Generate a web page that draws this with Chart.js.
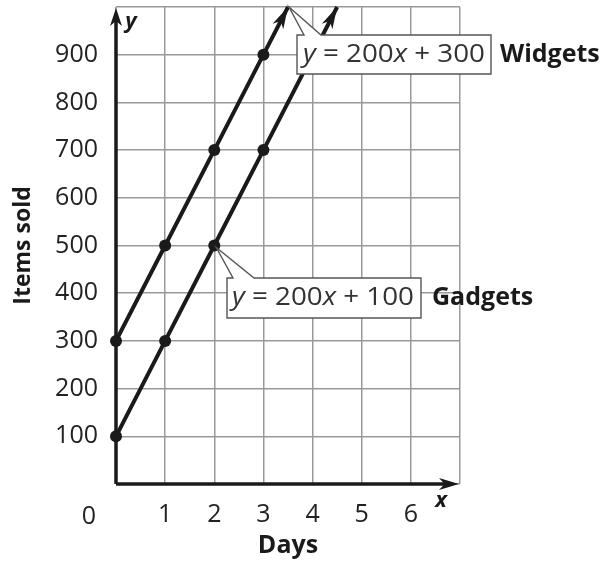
<!DOCTYPE html>
<html>
<head>
<meta charset="utf-8">
<script src="https://cdn.jsdelivr.net/npm/chart.js@4.4.1/dist/chart.umd.min.js"></script>
<style>html,body{margin:0;padding:0;background:#fff}</style>
</head>
<body>
<canvas id="graph" width="609" height="565"></canvas>
<script>
// data
const days = [0, 1, 2, 3];
const widgets = [300, 500, 700, 900];   // y = 200x + 300
const gadgets = [100, 300, 500, 700];   // y = 200x + 100
const widgetsEnd = { x: 3.5, y: 1000 }; // where the arrow leaves the grid
const gadgetsEnd = { x: 4.5, y: 1000 };
const xTickLabels = [1, 2, 3, 4, 5, 6];
const yTickLabels = [100, 200, 300, 400, 500, 600, 700, 800, 900];

const INK = "#1a1a1a";
const FONT = "'Open Sans', 'DejaVu Sans', sans-serif";

function points(ys, end) {
    const pts = days.map((d, i) => ({ x: d, y: ys[i] }));
    pts.push(end);
    return pts;
}

function arrowHead(ctx, x1, y1, x2, y2, len, half) {
    const a = Math.atan2(y2 - y1, x2 - x1);
    ctx.save();
    ctx.translate(x2, y2);
    ctx.rotate(a);
    ctx.beginPath();
    ctx.moveTo(0, 0);
    ctx.lineTo(-len, -half);
    ctx.lineTo(-len * 0.72, 0);
    ctx.lineTo(-len, half);
    ctx.closePath();
    ctx.fillStyle = INK;
    ctx.fill();
    ctx.restore();
}

// equation text, squeezed into a given width
function drawEq(ctx, parts, x, y, width) {
    ctx.save();
    let total = 0;
    parts.forEach(p => {
        ctx.font = (p.i ? "italic " : "") + "25px " + FONT;
        p.w = ctx.measureText(p.t).width;
        total += p.w;
    });
    ctx.translate(x, y);
    ctx.scale(width / total, 1);
    ctx.fillStyle = "#333";
    ctx.textBaseline = "middle";
    ctx.textAlign = "left";
    let cx = 0;
    parts.forEach(p => {
        ctx.font = (p.i ? "italic " : "") + "25px " + FONT;
        ctx.fillText(p.t, cx, 0);
        cx += p.w;
    });
    ctx.restore();
}

function callout(ctx, tip, box, base) {
    ctx.save();
    ctx.beginPath();
    ctx.moveTo(box.l, box.t);
    ctx.lineTo(base[0], box.t);
    ctx.lineTo(tip.x, tip.y);
    ctx.lineTo(base[1], box.t);
    ctx.lineTo(box.r, box.t);
    ctx.lineTo(box.r, box.b);
    ctx.lineTo(box.l, box.b);
    ctx.closePath();
    ctx.fillStyle = "#fff";
    ctx.fill();
    ctx.strokeStyle = "#555";
    ctx.lineWidth = 1.4;
    ctx.stroke();
    ctx.restore();
}

const extras = {
    id: "extras",
    afterDatasetsDraw(chart) {
        const ctx = chart.ctx;
        const xs = chart.scales.x, ys = chart.scales.y;
        const ca = chart.chartArea;

        // line arrows
        [[widgets, widgetsEnd], [gadgets, gadgetsEnd]].forEach(([arr, end]) => {
            const x1 = xs.getPixelForValue(days[days.length - 1]);
            const y1 = ys.getPixelForValue(arr[arr.length - 1]);
            const x2 = xs.getPixelForValue(end.x);
            const y2 = ys.getPixelForValue(end.y);
            arrowHead(ctx, x1, y1, x2, y2, 22, 6);
        });

        // axis arrows
        const ox = xs.getPixelForValue(0), oy = ys.getPixelForValue(0);
        ctx.save();
        ctx.strokeStyle = INK;
        ctx.lineWidth = 3.5;
        ctx.beginPath();
        ctx.moveTo(ox, oy);
        ctx.lineTo(ox, ca.top + 8);
        ctx.moveTo(ox, oy);
        ctx.lineTo(ca.right - 8, oy);
        ctx.stroke();
        ctx.restore();
        arrowHead(ctx, ox, oy, ox, ca.top + 1, 18, 6);
        arrowHead(ctx, ox, oy, ca.right - 1, oy, 20, 6);

        // axis letters and origin label
        ctx.save();
        ctx.fillStyle = INK;
        ctx.textBaseline = "middle";
        ctx.textAlign = "center";
        ctx.font = "italic bold 22px " + FONT;
        ctx.fillText("y", ox + 15, ca.top + 15);
        ctx.fillText("x", ca.right - 19, oy + 17);
        ctx.font = "25px " + FONT;
        ctx.fillStyle = "#222";
        ctx.fillText("0", ox - 27, oy + 33);
        ctx.restore();

        // callouts
        const wTip = { x: xs.getPixelForValue(widgetsEnd.x) + 1, y: ys.getPixelForValue(widgetsEnd.y) };
        const wBox = { l: 297, r: 491, t: 35, b: 74 };
        callout(ctx, wTip, wBox, [304, 321]);
        drawEq(ctx, [{ t: "y", i: true }, { t: " = 200" }, { t: "x", i: true }, { t: " + 300" }], 303, 55, 182);

        const gTip = { x: xs.getPixelForValue(days[2]) + 2, y: ys.getPixelForValue(gadgets[2]) + 2 };
        const gBox = { l: 227, r: 421, t: 278, b: 318 };
        callout(ctx, gTip, gBox, [233, 254]);
        drawEq(ctx, [{ t: "y", i: true }, { t: " = 200" }, { t: "x", i: true }, { t: " + 100" }], 232, 298, 182);

        ctx.save();
        ctx.fillStyle = INK;
        ctx.textBaseline = "middle";
        ctx.textAlign = "left";
        ctx.font = "bold 25px " + FONT;
        ctx.fillText("Widgets", 500, 55);
        ctx.fillText("Gadgets", 432, 298);
        ctx.restore();
    }
};

const lineStyle = {
    borderColor: INK,
    backgroundColor: INK,
    borderWidth: 4,
    pointRadius: [6, 6, 6, 6, 0],
    pointBorderWidth: 0,
    showLine: true,
    fill: false,
    tension: 0,
    clip: false
};

new Chart(document.getElementById("graph"), {
    type: "scatter",
    data: {
        datasets: [
            Object.assign({ label: "Widgets", data: points(widgets, widgetsEnd) }, lineStyle),
            Object.assign({ label: "Gadgets", data: points(gadgets, gadgetsEnd) }, lineStyle)
        ]
    },
    options: {
        responsive: false,
        animation: false,
        layout: { padding: { left: 0, top: 7, right: 149, bottom: 0 } },
        plugins: { legend: { display: false }, tooltip: { enabled: false } },
        scales: {
            x: {
                type: "linear",
                min: 0, max: 7,
                afterFit(scale) {
                    scale.height = 81;
                    scale.paddingLeft = 0;
                    scale.paddingRight = 0;
                },
                grid: { color: "#999", lineWidth: 1.5, drawTicks: false },
                border: { display: false },
                ticks: {
                    stepSize: 1,
                    padding: 16,
                    color: "#222",
                    font: { family: FONT, size: 25 },
                    callback: v => xTickLabels.includes(v) ? v : ""
                },
                title: {
                    display: true,
                    text: "Days",
                    color: INK,
                    font: { family: FONT, size: 25, weight: "bold" },
                    padding: { top: 0, bottom: 4 }
                }
            },
            y: {
                min: 0, max: 1000,
                afterFit(scale) {
                    scale.width = 116;
                    scale.paddingTop = 0;
                    scale.paddingBottom = 0;
                },
                grid: { color: "#999", lineWidth: 1.5, drawTicks: false },
                border: { display: false },
                ticks: {
                    stepSize: 100,
                    padding: 18,
                    color: "#222",
                    font: { family: FONT, size: 25 },
                    callback: v => yTickLabels.includes(v) ? v : ""
                },
                title: {
                    display: true,
                    text: "Items sold",
                    color: INK,
                    font: { family: FONT, size: 23, weight: "bold" },
                    padding: { top: 10, bottom: 0 }
                }
            }
        }
    },
    plugins: [extras]
});
</script>
</body>
</html>
